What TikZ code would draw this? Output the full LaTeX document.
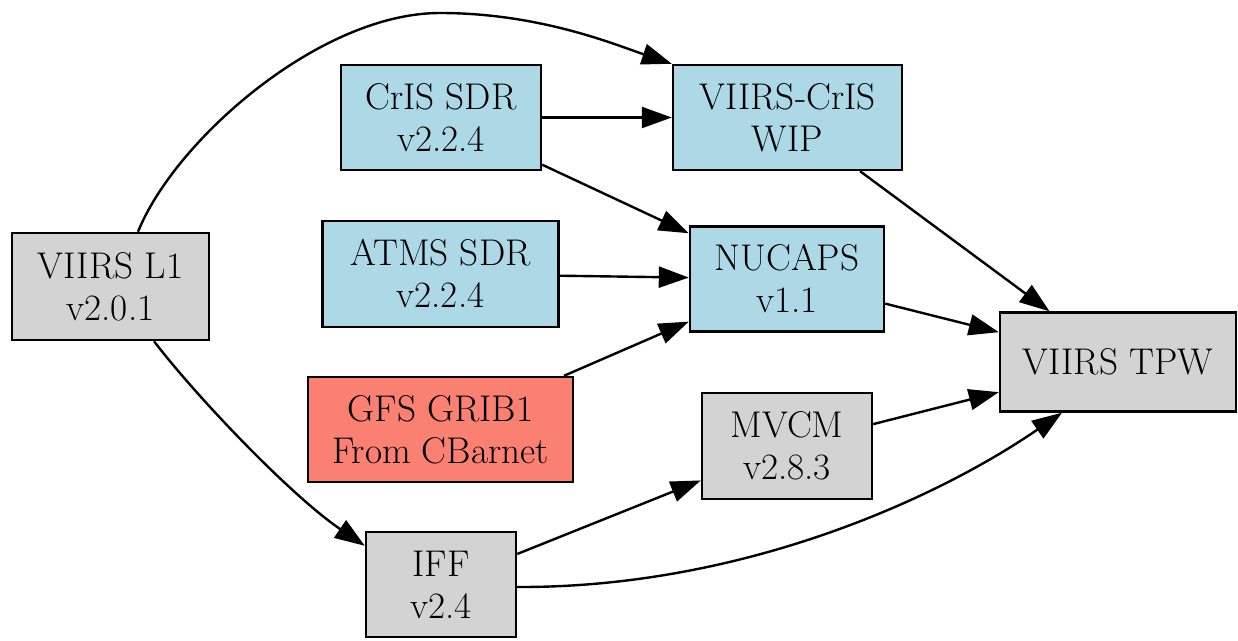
\documentclass[tikz,border=0pt]{standalone}
\usetikzlibrary{arrows.meta}
\definecolor{gvblue}{HTML}{ADD8E6}
\definecolor{gvgrey}{HTML}{D3D3D3}
\definecolor{gvsalmon}{HTML}{FA8072}
\begin{document}
\begin{tikzpicture}[x=0.5pt,y=-0.5pt,
  box/.style={draw=black, line width=1.2pt, align=center, inner sep=0pt,
    font=\fontsize{18.6}{21}\selectfont, minimum height=52.5pt},
  bluebox/.style={box, fill=gvblue},
  greybox/.style={box, fill=gvgrey},
  redbox/.style={box, fill=gvsalmon},
  edge/.style={line width=1.2pt, -{Triangle[length=15pt,width=10.5pt]}}]
\useasboundingbox (0,0) rectangle (1238,641);
\node[greybox, minimum width=98.5pt, minimum height=53.5pt] (l1) at (110.5,286.5) {VIIRS L1\\v2.0.1};
\node[bluebox, minimum width=100pt] (cris) at (441,117.5) {CrIS SDR\\v2.2.4};
\node[bluebox, minimum width=118pt, minimum height=53pt] (atms) at (440.5,274) {ATMS SDR\\v2.2.4};
\node[redbox, minimum width=132.5pt] (gfs) at (440.5,429.5) {GFS GRIB1\\From CBarnet};
\node[bluebox, minimum width=114.5pt] (wip) at (787.5,117.5) {VIIRS-CrIS\\WIP};
\node[bluebox, minimum width=97pt] (nucaps) at (787,279) {NUCAPS\\v1.1};
\node[greybox, minimum width=85pt, minimum height=53pt] (mvcm) at (787,446) {MVCM\\v2.8.3};
\node[greybox, minimum width=75pt] (iff) at (441,584.5) {IFF\\v2.4};
\node[greybox, minimum width=118pt, minimum height=49.5pt] (tpw) at (1118,362) {VIIRS TPW};
% edges
\draw[edge] ([xshift=13.75pt]l1.north) .. controls (175,140) and (320,13) .. (440,13)
  .. controls (540,13) and (616,45) .. (wip.north west);
\draw[edge] (cris) -- (wip);
\draw[edge] (cris) -- (nucaps);
\draw[edge] (atms) -- (nucaps);
\draw[edge] (gfs) -- (nucaps);
\draw[edge] (wip) -- (tpw);
\draw[edge] (nucaps) -- (tpw);
\draw[edge] (mvcm) -- (tpw);
\draw[edge] ([xshift=21.75pt]l1.south) .. controls (195,395) and (290,495) .. ([yshift=-7.5pt]iff.north west);
\draw[edge] (iff) -- (mvcm);
\draw[edge] ([yshift=-1.25pt]iff.east) .. controls (740,588) and (935,500) .. ([xshift=-28pt]tpw.south);
\end{tikzpicture}
\end{document}
